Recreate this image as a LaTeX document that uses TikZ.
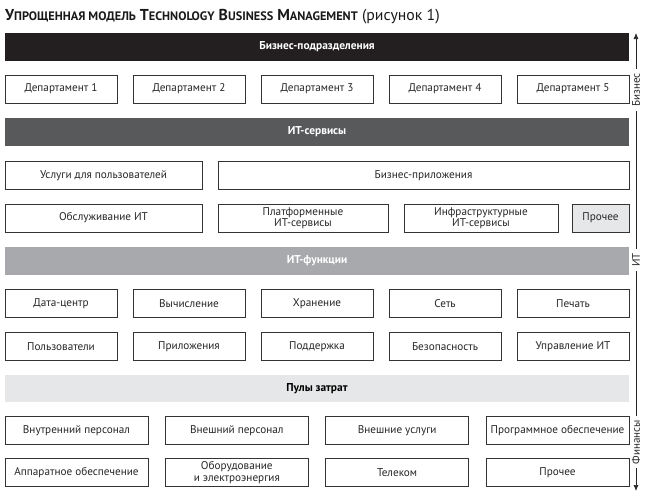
\documentclass[tikz,border=0pt]{standalone}
\usepackage{fontspec}
\setmainfont{PT Sans}
\usetikzlibrary{arrows.meta}
\definecolor{barblack}{HTML}{231F20}
\definecolor{bardark}{HTML}{58595B}
\definecolor{barmid}{HTML}{A7A9AC}
\definecolor{barlight}{HTML}{E6E7E8}
\definecolor{edge}{HTML}{333333}
\tikzset{
  box/.style={draw=edge, line width=0.7pt, fill=white, inner sep=1pt, align=center,
    font=\fontsize{11.2}{11.5}\selectfont, text=black!85},
  bar/.style={draw=none, inner sep=1pt, align=center, font=\bfseries\fontsize{11.4}{12}\selectfont,
    minimum width=624pt, minimum height=28pt},
  axislabel/.style={rotate=90, font=\fontsize{11}{12}\selectfont, inner xsep=4pt, inner ysep=0pt, text=black!85},
  axisline/.style={line width=0.7pt, draw=black!85},
}
\newcommand\bx[6]{\node[box, minimum width=#4pt, minimum height=#5pt] (#1) at (#2,#3) {#6};}
\newcommand\smc[1]{{\fontsize{12.3}{14}\selectfont #1}}
\begin{document}
\begin{tikzpicture}[x=1pt,y=-1pt]
\useasboundingbox (0,0) rectangle (650,499);
% title
\node[anchor=base west, inner sep=0pt, text=black!90] (title) at (5,20.5)
  {{\bfseries\fontsize{15.8}{17}\selectfont У\smc{ПРОЩЕННАЯ МОДЕЛЬ} T\smc{ECHNOLOGY} B\smc{USINESS} M\smc{ANAGEMENT}}\fontsize{15.8}{17}\selectfont\ (рисунок 1)};
% bars
\node[bar, fill=barblack, text=white] (bizbar) at (317,47) {Бизнес-подразделения};
\node[bar, fill=bardark, text=white] (itsbar) at (317,132) {ИТ-сервисы};
\node[bar, fill=barmid, text=white] (itfbar) at (317,261) {ИТ-функции};
\node[bar, fill=barlight, text=black, minimum height=27pt] (poolbar) at (317,388.5) {Пулы затрат};
% departments
\bx{d1}{61}{89}{112}{28}{Департамент 1}
\bx{d2}{189}{89}{112}{28}{Департамент 2}
\bx{d3}{317}{89}{112}{28}{Департамент 3}
\bx{d4}{445}{89}{112}{28}{Департамент 4}
\bx{d5}{573}{89}{112}{28}{Департамент 5}
% IT services
\bx{s1}{103.5}{175.5}{197}{28}{Услуги для пользователей}
\bx{s2}{423.5}{175.5}{411}{28}{Бизнес-приложения}
\bx{s3}{103.5}{218}{197}{28}{Обслуживание ИТ}
\bx{s4}{303}{218}{170}{28}{Платформенные\\ИТ-сервисы}
\bx{s5}{481}{218}{154}{28}{Инфраструктурные\\ИТ-сервисы}
\node[box, fill=barlight, minimum width=57pt, minimum height=28pt] (s6) at (600.5,218) {Прочее};
% IT functions
\bx{f1}{61}{303.5}{112}{28}{Дата-центр}
\bx{f2}{189}{303.5}{112}{28}{Вычисление}
\bx{f3}{317}{303.5}{112}{28}{Хранение}
\bx{f4}{445}{303.5}{112}{28}{Сеть}
\bx{f5}{573}{303.5}{112}{28}{Печать}
\bx{f6}{61}{346.5}{112}{28}{Пользователи}
\bx{f7}{189}{346.5}{112}{28}{Приложения}
\bx{f8}{317}{346.5}{112}{28}{Поддержка}
\bx{f9}{445}{346.5}{112}{28}{Безопасность}
\bx{f10}{573}{346.5}{112}{28}{Управление ИТ}
% cost pools
\bx{p1}{76.5}{430.5}{143}{28}{Внутренний персонал}
\bx{p2}{236.8}{430.5}{143}{28}{Внешний персонал}
\bx{p3}{397.2}{430.5}{143}{28}{Внешние услуги}
\bx{p4}{557.5}{430.5}{143}{28}{Программное обеспечение}
\bx{p5}{76.5}{472.5}{143}{28}{Аппаратное обеспечение}
\bx{p6}{236.8}{472.5}{143}{28}{Оборудование\\и электроэнергия}
\bx{p7}{397.2}{472.5}{143}{28}{Телеком}
\bx{p8}{557.5}{472.5}{143}{28}{Прочее}
% axis
\coordinate (atop) at (636,33);
\coordinate (abot) at (636,491);
\node[axislabel] (lbiz) at (636,90) {Бизнес};
\node[axislabel] (lit) at (636,260) {ИТ};
\node[axislabel] (lfin) at (636,442) {Финансы};
\draw[axisline, {Latex[length=6pt,width=5pt]}-] (atop) -- (lbiz.east);
\draw[axisline] (lbiz.west) -- (lit.east);
\draw[axisline] (lit.west) -- (lfin.east);
\draw[axisline, -{Latex[length=6pt,width=5pt]}] (lfin.west) -- (abot);
\end{tikzpicture}
\end{document}
